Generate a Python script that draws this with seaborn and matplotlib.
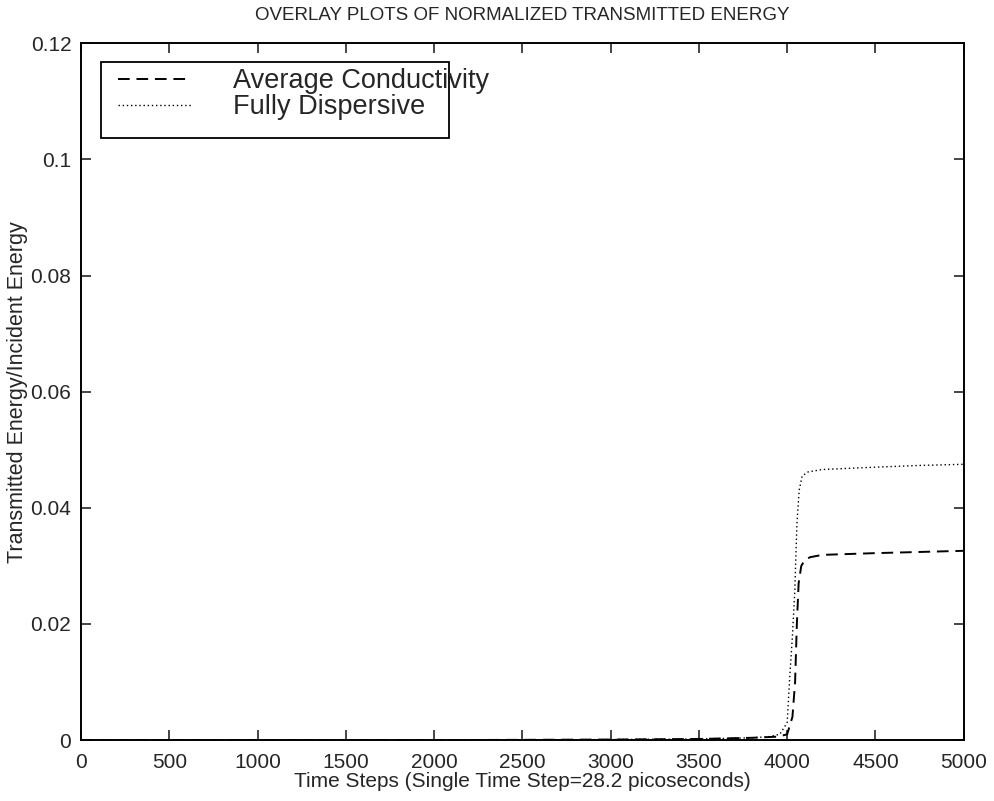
import matplotlib.pyplot as plt
import seaborn as sns
import pandas as pd
from matplotlib.patches import Rectangle

# time steps / energy ratios
steps_avg = [0, 1000, 2000, 3000, 3500, 3800, 3950, 4000, 4030, 4045, 4055, 4065,
             4080, 4100, 4130, 4200, 4300, 4500, 4750, 5000]
energy_avg = [0.0, 0.0, 0.0, 0.0001, 0.0002, 0.0004, 0.0006, 0.001, 0.004, 0.010, 0.020, 0.027,
              0.030, 0.031, 0.0315, 0.0319, 0.032, 0.0322, 0.0324, 0.0326]

steps_disp = [0, 1000, 2000, 3000, 3500, 3800, 3900, 3958, 4000, 4015, 4030, 4043,
              4055, 4068, 4085, 4120, 4200, 4500, 4750, 5000]
energy_disp = [0.0, 0.0, 0.0, 0.0001, 0.0002, 0.0004, 0.0006, 0.001, 0.003, 0.011, 0.018, 0.0255,
               0.037, 0.043, 0.0455, 0.0462, 0.0466, 0.047, 0.0473, 0.0475]

x_ticks = [0, 500, 1000, 1500, 2000, 2500, 3000, 3500, 4000, 4500, 5000]
y_ticks = [0, 0.02, 0.04, 0.06, 0.08, 0.1, 0.12]
y_tick_labels = ['0', '0.02', '0.04', '0.06', '0.08', '0.1', '0.12']

sns.set_style('ticks')
plt.rcParams['font.family'] = ['Liberation Sans', 'DejaVu Sans']

fig = plt.figure(figsize=(9.94, 8.01), dpi=100)
ax = fig.add_axes([0.0815, 0.076, 0.888, 0.870])

df_avg = pd.DataFrame({'step': steps_avg, 'energy': energy_avg})
df_disp = pd.DataFrame({'step': steps_disp, 'energy': energy_disp})

sns.lineplot(data=df_avg, x='step', y='energy', ax=ax, color='black', lw=1.4,
             linestyle=(0, (6, 3.5)), label='Average Conductivity')
sns.lineplot(data=df_disp, x='step', y='energy', ax=ax, color='black', lw=1.0,
             linestyle=(0, (1, 2)), label='Fully Dispersive')

ax.set_xlim(0, 5000)
ax.set_ylim(0, 0.12)
ax.set_xticks(x_ticks)
ax.set_yticks(y_ticks)
ax.set_yticklabels(y_tick_labels)
ax.tick_params(direction='in', top=True, right=True, length=7, width=1.2,
               labelsize=15)
ax.tick_params(axis='x', pad=9)
ax.tick_params(axis='y', pad=7)
for s in ax.spines.values():
    s.set_linewidth(1.4)
    s.set_color('black')

ax.set_title('OVERLAY PLOTS OF NORMALIZED TRANSMITTED ENERGY', fontsize=13.5, pad=17)
ax.set_xlabel('Time Steps (Single Time Step=28.2 picoseconds)', fontsize=15, labelpad=0)
ax.set_ylabel('Transmitted Energy/Incident Energy', fontsize=15.5, labelpad=2)

# legend text runs past the box in the original, so draw the box separately
ax.add_patch(Rectangle((0.0227, 0.8637), 0.394, 0.109, transform=ax.transAxes,
                       fill=False, edgecolor='black', lw=1.3, zorder=5))
leg = ax.legend(loc='upper left', bbox_to_anchor=(0.042, 0.964), fontsize=19.5,
                frameon=False, handlelength=2.7, handletextpad=1.55,
                labelspacing=0.0, borderpad=0, borderaxespad=0)

plt.savefig('out.png', dpi=100)
plt.close()
